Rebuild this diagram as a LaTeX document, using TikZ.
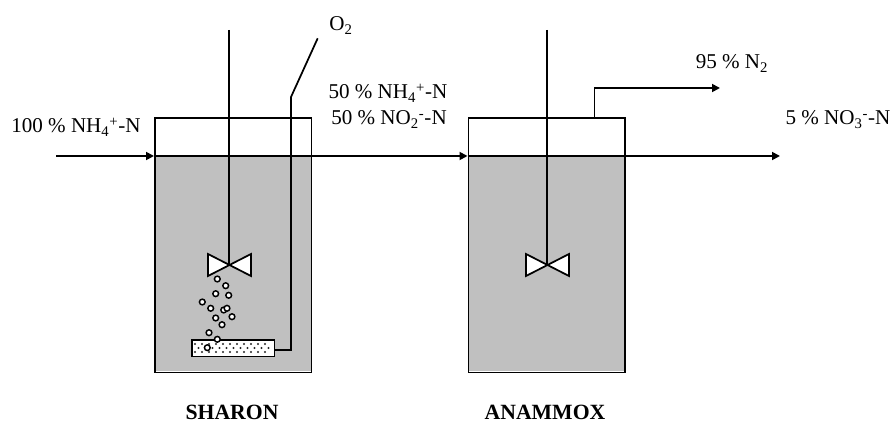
\documentclass[tikz,border=0pt]{standalone}
\usepackage{fontspec}
\setmainfont{Liberation Serif}
\usetikzlibrary{arrows.meta}
\definecolor{liquid}{RGB}{192,192,192}
\tikzset{
  x=0.75pt,y=-0.75pt,
  ln/.style={draw=black,line width=1.3pt},
  flow/.style={ln,-{Triangle[length=6pt,width=6pt]}},
  lab/.style={inner sep=0pt,font=\fontsize{15.8}{18}\selectfont,anchor=base},
  tit/.style={inner sep=0pt,anchor=base,font=\fontsize{16.3}{18}\selectfont\bfseries},
  bub/.style={circle,draw=black,fill=white,line width=1.1pt,minimum size=4.3pt,inner sep=0pt},
  tankbox/.style={ln,minimum width=117.5pt,minimum height=191pt,inner sep=0pt},
}
\begin{document}
\begin{tikzpicture}
\useasboundingbox (0,0) rectangle (893,423);
% liquid
\fill[liquid] (154,156) rectangle (310.7,371.5);
\fill[liquid] (467.5,156) rectangle (624,371.5);
% tanks
\node[tankbox,anchor=north west] (t1) at (154,117) {};
\node[tankbox,anchor=north west] (t2) at (467.5,117) {};
% anchors
\coordinate (in) at (56,156);
\coordinate (t1l) at (t1.west |- in);
\coordinate (t1r) at (t1.east |- in);
\coordinate (t2l) at (t2.west |- in);
\coordinate (t2r) at (t2.east |- in);
\coordinate (out) at (780,156);
\coordinate (s1top) at (229,30);
\coordinate (s2top) at (547,30);
\coordinate (g0) at (594.5,117);
\coordinate (g1) at (594.5,88);
\coordinate (g2) at (720,88);
\coordinate (o0) at (317.7,38.3);
\coordinate (o1) at (291,97);
\coordinate (o2) at (291,350);
% impellers
\node[inner sep=0pt,minimum size=0pt] (i1) at (229,265) {};
\node[inner sep=0pt,minimum size=0pt] (i2) at (547,265) {};
% sparger
\node[anchor=north west,fill=white,minimum width=61.5pt,minimum height=12pt,inner sep=0pt] (sp) at (192,340) {};
\foreach \r/\yy/\off in {0/344/0,1/348/3.5,2/352/0}
  \foreach \k in {0,...,10}
    \fill[black!85] ({195+\off+7*\k},\yy) circle[radius=0.8pt];
\draw[ln] (sp.south west) rectangle (sp.north east);
% connectors
\draw[flow] (in) -- (t1l);
\draw[flow] (t1r) -- (t2l);
\draw[flow] (t2r) -- (out);
\draw[ln] (t1l) -- (t1r);
\draw[ln] (t2l) -- (t2r);
\draw[ln] (s1top) -- (i1);
\draw[ln] (s2top) -- (i2);
\draw[flow] (g0) -- (g1) -- (g2);
\draw[ln,line join=miter] (o0) -- (o1) -- (o2) -- (sp.east |- o2);
\draw[ln,fill=white,line join=miter] (208,254) -- (251,276) -- (251,254) -- (208,276) -- cycle;
\draw[ln,fill=white,line join=miter] (526,254) -- (569,276) -- (569,254) -- (526,276) -- cycle;
% bubbles
\foreach \n/\x/\y in {a/217.3/279,b/225.7/285.7,c/215.7/293.7,d/228.7/295.3,e/202.3/302,f/210.7/308.3,g/223.7/310,h/227/308.3,j/232/316.7,k/215.7/318,l/222/324.7,m/209/332.7,n/217.3/339.3,o/207.3/347.7}
  \node[bub] (b\n) at (\x,\y) {};
% labels
\node[lab] (l1) at (76,133) {100 \% NH\textsubscript{4}\textsuperscript{+}-N};
\node[lab] (l2) at (388,99) {50 \% NH\textsubscript{4}\textsuperscript{+}-N};
\node[lab] (l3) at (389,125) {50 \% NO\textsubscript{2}\textsuperscript{-}-N};
\node[lab] (l4) at (341,31) {O\textsubscript{2}};
\node[lab] (l5) at (732,69) {95 \% N\textsubscript{2}};
\node[lab] (l6) at (838,125) {5 \% NO\textsubscript{3}\textsuperscript{-}-N};
\node[tit] (l7) at (232,420) {SHARON};
\node[tit] (l8) at (545,420) {ANAMMOX};
\end{tikzpicture}
\end{document}
